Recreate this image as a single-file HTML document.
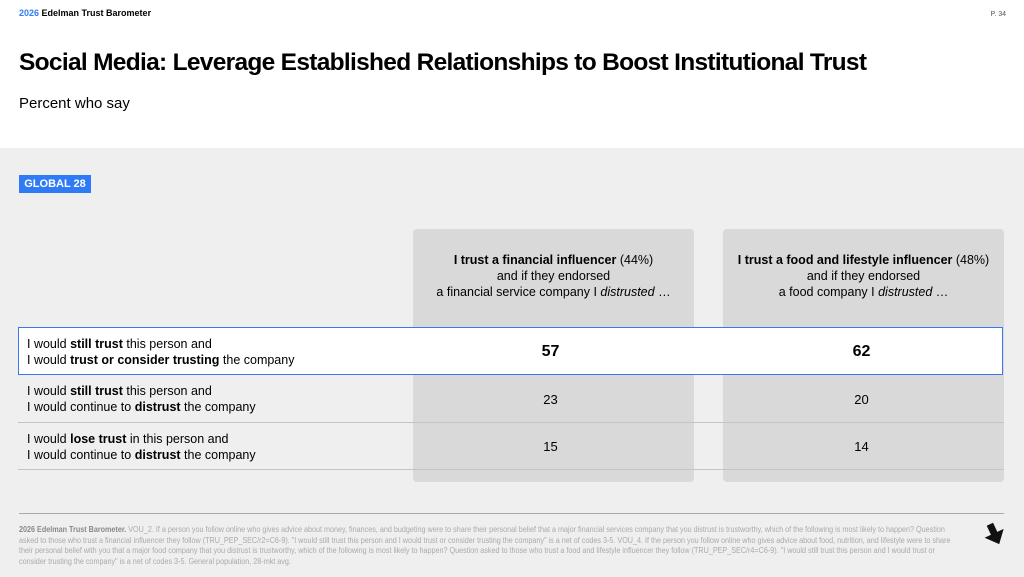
<!DOCTYPE html><html><head><style>
body{margin:0;width:1024px;height:577px;position:relative;overflow:hidden;background:#f0efef;font-family:"Liberation Sans",sans-serif;color:#000}
.a{position:absolute}
.col{position:absolute;top:229px;height:253px;width:281px;background:#d9d9d9;border-radius:4px}
.hd{position:absolute;top:252px;width:281px;text-align:center;font-size:12.5px;line-height:16px}
.lbl{position:absolute;left:27px;font-size:12.5px;line-height:16px}
.num{position:absolute;width:281px;text-align:center;font-size:13px}
.ln{position:absolute;left:18px;width:986px;height:1px;background:#c4c4c4}
</style></head><body>
<div class="a" style="left:0;top:0;width:1024px;height:148px;background:#fff"></div>
<div class="a" style="left:19px;top:8px;font-size:9px;font-weight:bold"><span style="color:#2f7bf5">2026</span> Edelman Trust Barometer</div>
<div class="a" style="right:18px;top:11px;font-size:7px;color:#555">P. 34</div>
<div class="a" style="left:19px;top:49px;font-size:24.5px;font-weight:bold;letter-spacing:-0.7px">Social Media: Leverage Established Relationships to Boost Institutional Trust</div>
<div class="a" style="left:19px;top:95px;font-size:15px">Percent who say</div>
<div class="a" style="left:19px;top:175px;width:72px;height:18px;background:#2f7bf5;color:#fff;font-size:11px;font-weight:bold;line-height:18px;text-align:center">GLOBAL 28</div>
<div class="col" style="left:413px"></div>
<div class="col" style="left:723px"></div>
<div class="hd" style="left:413px"><b>I trust a financial influencer</b> (44%)<br>and if they endorsed<br>a financial service company I <i>distrusted</i> …</div>
<div class="hd" style="left:723px"><b>I trust a food and lifestyle influencer</b> (48%)<br>and if they endorsed<br>a food company I <i>distrusted</i> …</div>
<div class="a" style="left:18px;top:327px;width:983px;height:46px;background:#fff;border:1.5px solid #3a78f0"></div>
<div class="lbl" style="top:336px">I would <b>still trust</b> this person and<br>I would <b>trust or consider trusting</b> the company</div>
<div class="num" style="left:410px;top:343px;font-size:16px;font-weight:bold">57</div>
<div class="num" style="left:721px;top:343px;font-size:16px;font-weight:bold">62</div>
<div class="lbl" style="top:383px">I would <b>still trust</b> this person and<br>I would continue to <b>distrust</b> the company</div>
<div class="num" style="left:410px;top:392px">23</div>
<div class="num" style="left:721px;top:392px">20</div>
<div class="ln" style="top:422px"></div>
<div class="lbl" style="top:431px">I would <b>lose trust</b> in this person and<br>I would continue to <b>distrust</b> the company</div>
<div class="num" style="left:410px;top:439px">15</div>
<div class="num" style="left:721px;top:439px">14</div>
<div class="ln" style="top:469px"></div>
<div class="a" style="left:19px;top:513px;width:985px;height:1px;background:#aaa"></div>
<div class="a" style="left:19px;top:525px;width:1050px;transform:scaleX(0.9);transform-origin:0 0;font-size:8px;line-height:10.5px;color:#aaa"><b style="color:#888">2026 Edelman Trust Barometer.</b> VOU_2. If a person you follow online who gives advice about money, finances, and budgeting were to share their personal belief that a major financial services company that you distrust is trustworthy, which of the following is most likely to happen? Question asked to those who trust a financial influencer they follow (TRU_PEP_SEC/r2=C6-9). "I would still trust this person and I would trust or consider trusting the company" is a net of codes 3-5. VOU_4. If the person you follow online who gives advice about food, nutrition, and lifestyle were to share their personal belief with you that a major food company that you distrust is trustworthy, which of the following is most likely to happen? Question asked to those who trust a food and lifestyle influencer they follow (TRU_PEP_SEC/r4=C6-9). "I would still trust this person and I would trust or consider trusting the company" is a net of codes 3-5. General population, 28-mkt avg.</div>
<svg class="a" style="left:984px;top:522px" width="22" height="24"><path d="M7 1h7v10h7l-10.5 12L0 11h7z" fill="#111" transform="rotate(-25 11 12)"/></svg>
</body></html>
